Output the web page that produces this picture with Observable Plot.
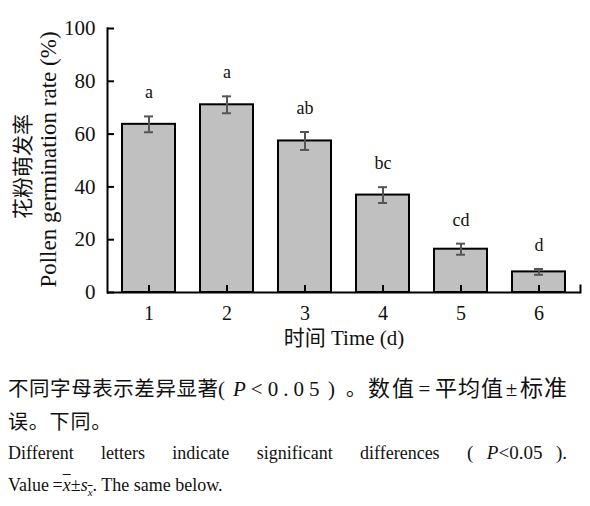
<!DOCTYPE html>
<html>
<head>
<meta charset="utf-8">
<script src="https://cdn.jsdelivr.net/npm/d3@7"></script>
<script src="https://cdn.jsdelivr.net/npm/@observablehq/plot@0.6"></script>
<style>
  html, body { margin: 0; padding: 0; background: #fff; }
  #chart { width: 590px; height: 360px; }
  #caption { margin-top: 10px; padding-left: 8px; width: 559px; }
  .zh { font-family: "Noto Sans CJK SC", sans-serif; font-size: 20px; line-height: 32px; color: #111; white-space: nowrap; }
  .en { font-family: "Liberation Serif", serif; font-size: 18px; line-height: 32px; color: #111; }
  .just { text-align: justify; text-align-last: justify; }
  .seg { display: inline-block; text-align: justify; text-align-last: justify; }
  .cen { display: inline-block; text-align: center; }
  .ser { font-family: "Liberation Serif", serif; font-size: 21px; }
  .it { font-style: italic; font-family: "Liberation Serif", serif; }
  .ov { text-decoration: overline; font-style: italic; }
</style>
</head>
<body>
<div id="chart"></div>
<div id="caption">
  <div class="zh"><span class="seg" style="width:210px;font-size:20.5px">不同字母表示差异显著</span><span class="ser" style="display:inline-block;width:15px">(</span><span class="ser" style="display:inline-block;width:95px;letter-spacing:5px"><span class="it">P</span>&lt;0.05</span><span class="ser" style="display:inline-block;width:10px">)</span><span style="display:inline-block;width:22px;padding-left:8px">。</span><span class="seg" style="width:46px;font-size:22px">数值</span><span class="ser cen" style="width:21px">=</span><span class="seg" style="width:68px;font-size:22px">平均值</span><span class="ser cen" style="width:17px">±</span><span class="seg" style="width:47px;font-size:23px">标准</span></div>
  <div class="zh" style="letter-spacing:0.8px">误。下同。</div>
  <div class="en just">Different letters indicate significant differences <span class="seg" style="width:100px;font-size:19px">( <span class="it">P</span>&lt;0.05 ).</span></div>
  <div class="en">Value&#8201;=<span class="ov">x</span>±<span class="it">s</span><sub style="font-size:11px"><span class="ov">x</span></sub>. The same below.</div>
</div>
<script>
const days = ["1", "2", "3", "4", "5", "6"];
const means = [63.7, 71.1, 57.4, 36.9, 16.4, 7.8];
const ses = [3.0, 3.2, 3.4, 3.0, 2.1, 1.1];
const letters = ["a", "a", "ab", "bc", "cd", "d"];
const yTicks = [0, 20, 40, 60, 80, 100];

const data = days.map((d, i) => ({day: d, mean: means[i], se: ses[i], letter: letters[i]}));

const W = 590, H = 360, mL = 107, mR = 10, mT = 28, mB = 68;
const plotW = W - mL - mR, plotH = H - mT - mB;

const chart = Plot.plot({
  width: W,
  height: H,
  marginLeft: mL,
  marginRight: mR,
  marginTop: mT,
  marginBottom: mB,
  style: {fontFamily: "'Liberation Serif', 'Noto Sans CJK SC', serif", background: "transparent", color: "#111"},
  x: {domain: days, paddingInner: 0.315, paddingOuter: 0.1575},
  y: {domain: [0, 100]},
  marks: [
    Plot.barY(data, {x: "day", y: "mean", fill: "#c0c0c0", stroke: "#000", strokeWidth: 2}),
    Plot.ruleX(data, {x: "day", y1: d => d.mean - d.se, y2: d => d.mean + d.se, stroke: "#555", strokeWidth: 2}),
    Plot.tickY(data, {x: "day", y: d => d.mean - d.se, stroke: "#555", strokeWidth: 2, insetLeft: 31, insetRight: 31}),
    Plot.tickY(data, {x: "day", y: d => d.mean + d.se, stroke: "#555", strokeWidth: 2, insetLeft: 31, insetRight: 31}),
    Plot.text(data, {x: "day", y: d => d.mean + d.se, text: "letter", dy: -18, lineAnchor: "bottom", fontSize: 18, fill: "#111"}),
    Plot.ruleX(days, {x: d => d, y1: 0, y2: 0, insetTop: -7, stroke: "#000", strokeWidth: 2}),
    Plot.tickY(yTicks, {y: d => d, insetRight: plotW - 7, stroke: "#000", strokeWidth: 2}),
    Plot.axisX({tickSize: 0, tickPadding: 13, fontSize: 20, label: "时间 Time (d)", labelAnchor: "center", labelOffset: 52}),
    Plot.axisY(yTicks, {tickSize: 0, tickPadding: 12, fontSize: 21, label: null}),
    Plot.frame({anchor: "left", stroke: "#000", strokeWidth: 2}),
    Plot.frame({anchor: "right", insetTop: plotH - 7, stroke: "#000", strokeWidth: 2}),
    Plot.ruleY([0], {stroke: "#000", strokeWidth: 2}),
    Plot.text(["花粉萌发率"], {frameAnchor: "left", rotate: -90, dx: -84, dy: 6, textAnchor: "middle", lineAnchor: "middle", fontSize: 21, fill: "#111"}),
    Plot.text(["Pollen germination rate (%)"], {frameAnchor: "left", rotate: -90, dx: -59, dy: -1, textAnchor: "middle", lineAnchor: "middle", fontSize: 23, fill: "#111"})
  ]
});
chart.querySelectorAll("g[aria-label='x-axis label'] text, g[aria-label='x-axis label']").forEach(e => e.setAttribute("font-size", 21));
document.getElementById("chart").appendChild(chart);
</script>
</body>
</html>
